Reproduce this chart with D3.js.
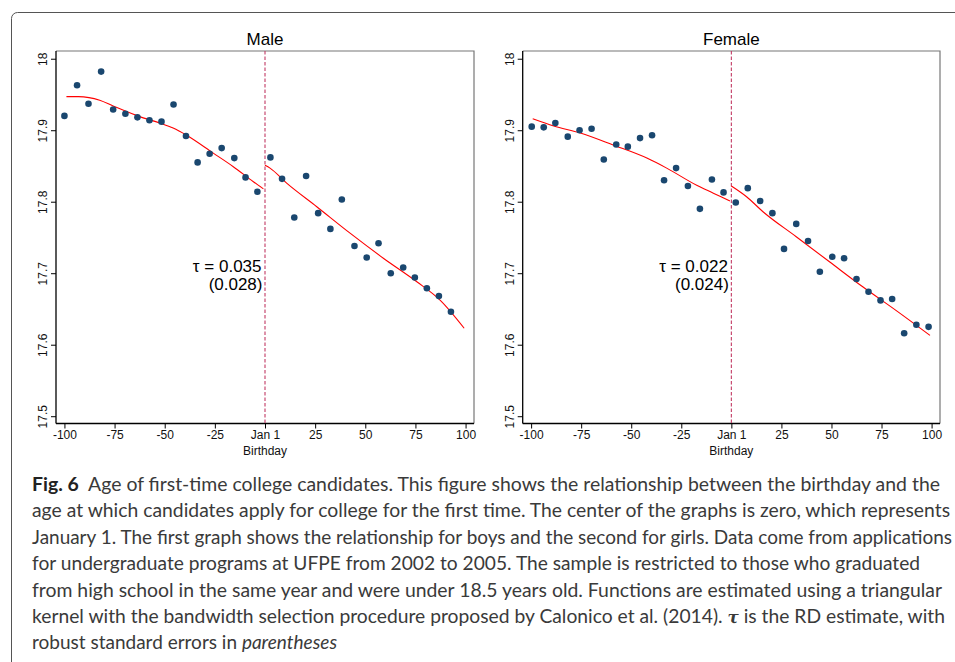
<!DOCTYPE html>
<html>
<head>
  <meta charset="utf-8">
  <script src="https://cdn.jsdelivr.net/npm/d3@7"></script>
  <style>
    body { margin: 0; background: #fff; }
  </style>
</head>
<body>
<script>
  // binned means (birthday in days around Jan 1, mean age)
  var maleDays = [-100, -93.7, -88, -81.7, -75.7, -69.6, -63.6, -57.6, -51.6, -45.6, -39.4, -33.6, -27.6, -21.6, -15.3, -9.7, -3.8,
                  2.7, 8.5, 14.6, 20.5, 26.5, 32.6, 38.3, 44.6, 50.7, 56.6, 62.7, 68.9, 74.7, 80.7, 86.7, 92.7];
  var maleAge = [17.920, 17.963, 17.937, 17.982, 17.929, 17.923, 17.918, 17.914, 17.912, 17.936, 17.892, 17.855, 17.867, 17.875, 17.861, 17.834, 17.814,
                 17.862, 17.832, 17.778, 17.836, 17.784, 17.762, 17.803, 17.738, 17.722, 17.742, 17.700, 17.708, 17.694, 17.679, 17.668, 17.646];

  var femaleDays = [-99.7, -93.7, -87.9, -81.7, -75.8, -69.8, -63.7, -57.5, -51.7, -45.6, -39.6, -33.6, -27.6, -21.7, -15.7, -9.7, -3.9,
                    2.2, 8.2, 14.4, 20.5, 26.3, 32.4, 38.3, 44.2, 50.4, 56.3, 62.5, 68.5, 74.5, 80.3, 86.3, 92.4, 98.5];
  var femaleAge = [17.905, 17.904, 17.910, 17.891, 17.900, 17.902, 17.859, 17.880, 17.877, 17.889, 17.893, 17.830, 17.847, 17.822, 17.790, 17.831, 17.813,
                   17.799, 17.819, 17.801, 17.784, 17.734, 17.769, 17.745, 17.702, 17.723, 17.721, 17.692, 17.674, 17.662, 17.664, 17.616, 17.628, 17.625];

  // local polynomial fits, each side of the cutoff
  var maleFitLeftX = [-99, -93, -82.4, -75.7, -62.4, -52.4, -45.8, -39.1, -25.8, -15.8, -5.8, -0.8];
  var maleFitLeftY = [17.947, 17.947, 17.942, 17.934, 17.919, 17.910, 17.903, 17.893, 17.868, 17.849, 17.828, 17.818];
  var maleFitRightX = [0, 2.5, 10.8, 25.8, 42.4, 59, 75.7, 87.4, 99.3];
  var maleFitRightY = [17.851, 17.847, 17.826, 17.793, 17.756, 17.721, 17.688, 17.662, 17.623];

  var femaleFitLeftX = [-99.2, -88.7, -75.4, -58.8, -42.2, -32.3, -17.3, -9.0, -0.7];
  var femaleFitLeftY = [17.916, 17.906, 17.896, 17.879, 17.861, 17.847, 17.823, 17.812, 17.801];
  var femaleFitRightX = [0, 7.6, 15.8, 32.4, 49, 65.6, 82.2, 99.2];
  var femaleFitRightY = [17.822, 17.807, 17.786, 17.751, 17.716, 17.681, 17.648, 17.613];

  var xTicks = [-100, -75, -50, -25, 0, 25, 50, 75, 100];
  var yTicks = [17.5, 17.6, 17.7, 17.8, 17.9, 18];

  var captionLines = [
    "Age of first-time college candidates. This figure shows the relationship between the birthday and the",
    "age at which candidates apply for college for the first time. The center of the graphs is zero, which represents",
    "January 1. The first graph shows the relationship for boys and the second for girls. Data come from applications",
    "for undergraduate programs at UFPE from 2002 to 2005. The sample is restricted to those who graduated",
    "from high school in the same year and were under 18.5 years old. Functions are estimated using a triangular",
    "kernel with the bandwidth selection procedure proposed by Calonico et al. (2014).",
    "robust standard errors in "
  ];

  var width = 955;
  var height = 662;

  var svg = d3.select("body")
    .append("svg")
    .attr("width", width)
    .attr("height", height);

  // outer frame of the figure box (runs off the page right/bottom)
  svg.append("rect")
    .attr("x", 11.5).attr("y", 12.5)
    .attr("width", 980).attr("height", 700)
    .attr("rx", 6)
    .style("fill", "none")
    .style("stroke", "#555")
    .style("stroke-width", 1);

  function panel(left, right, title, days, ages, fits, tau, se) {
    var top = 51, bottom = 423.5;
    var x = d3.scaleLinear().domain([-104.2, 104.2]).range([left, right]);
    var y = d3.scaleLinear().domain([17.4898, 18.0108]).range([bottom, top]);
    var g = svg.append("g");

    // top and right frame in grey
    g.append("path")
      .attr("d", "M" + left + "," + top + "H" + right + "V" + bottom)
      .style("fill", "none").style("stroke", "#777").style("stroke-width", 1.2);

    var xAxis = g.append("g")
      .attr("transform", "translate(0," + bottom + ")")
      .call(d3.axisBottom(x).tickValues(xTicks).tickSize(5).tickPadding(2)
        .tickFormat(function(d) { return d == 0 ? "Jan 1" : d; }));
    var yAxis = g.append("g")
      .attr("transform", "translate(" + left + ",0)")
      .call(d3.axisLeft(y).tickValues(yTicks).tickSize(5).tickFormat(d3.format("")));

    [xAxis, yAxis].forEach(function(a) {
      a.select(".domain").style("stroke", "#000").style("stroke-width", 1.3);
      a.selectAll(".tick line").style("stroke", "#000");
      a.selectAll("text").style("font-family", "Liberation Sans, Arial, sans-serif")
        .style("font-size", "12px").style("fill", "#111");
    });
    // the domain path has outer ticks; redraw as plain lines
    xAxis.select(".domain").attr("d", "M" + left + ",0H" + right);
    yAxis.select(".domain").attr("d", "M0," + top + "V" + bottom);

    yAxis.selectAll("text")
      .attr("transform", "rotate(-90)")
      .attr("x", 0).attr("y", -9).attr("dy", 0)
      .style("text-anchor", "middle");

    g.append("text")
      .attr("x", x(0)).attr("y", 455)
      .style("text-anchor", "middle")
      .style("font-family", "Liberation Sans, Arial, sans-serif")
      .style("font-size", "12px").style("fill", "#111")
      .text("Birthday");

    g.append("text")
      .attr("x", (left + right) / 2).attr("y", 45)
      .style("text-anchor", "middle")
      .style("font-family", "Liberation Sans, Arial, sans-serif")
      .style("font-size", "17px").style("fill", "#000")
      .text(title);

    // cutoff line
    g.append("line")
      .attr("x1", x(0)).attr("x2", x(0))
      .attr("y1", top).attr("y2", bottom)
      .style("stroke", "#c23a64").style("stroke-width", 1.1)
      .style("stroke-dasharray", "3.5,2");

    var line = d3.line().x(function(d) { return x(d[0]); }).y(function(d) { return y(d[1]); })
      .curve(d3.curveMonotoneX);
    fits.forEach(function(f) {
      g.append("path")
        .datum(d3.zip(f[0], f[1]))
        .attr("d", line)
        .style("fill", "none").style("stroke", "#ff0000").style("stroke-width", 1.1);
    });

    g.selectAll("circle")
      .data(d3.zip(days, ages))
      .enter()
      .append("circle")
      .attr("cx", function(d) { return x(d[0]); })
      .attr("cy", function(d) { return y(d[1]); })
      .attr("r", 3.3)
      .style("fill", "#1a476f");

    var ann = g.append("text")
      .style("text-anchor", "end")
      .style("font-family", "Liberation Sans, Arial, sans-serif")
      .style("font-size", "17px").style("fill", "#000");
    ann.append("tspan").attr("x", x(0) - 3.5).attr("y", 271.5).text("\u03c4 = " + tau);
    ann.append("tspan").attr("x", x(0) - 2.5).attr("y", 290).text("(" + se + ")");
  }

  panel(56, 474, "Male", maleDays, maleAge,
    [[maleFitLeftX, maleFitLeftY], [maleFitRightX, maleFitRightY]], "0.035", "0.028");
  panel(522.7, 940, "Female", femaleDays, femaleAge,
    [[femaleFitLeftX, femaleFitLeftY], [femaleFitRightX, femaleFitRightY]], "0.022", "0.024");

  // caption
  var capWidths = [908, 918, 920, 888, 910, 913, 305];
  var cap = svg.append("g")
    .style("font-family", "Lato, 'Open Sans', sans-serif")
    .style("font-size", "18.5px")
    .style("fill", "#3a3a3a");

  captionLines.forEach(function(s, i) {
    var t = cap.append("text")
      .attr("x", 32)
      .attr("y", 491 + i * 26.4)
      .attr("textLength", capWidths[i])
      .attr("lengthAdjust", "spacingAndGlyphs");
    if (i == 0) {
      t.append("tspan").style("font-weight", "bold").style("fill", "#222").text("Fig. 6");
      t.append("tspan").text("\u00a0 " + s);
    } else if (i == 5) {
      t.append("tspan").text(s + " ");
      t.append("tspan").style("font-family", "DejaVu Serif, serif").style("font-style", "italic")
        .style("font-weight", "bold").style("font-size", "16px").text("\u03c4");
      t.append("tspan").text(" is the RD estimate, with");
    } else if (i == 6) {
      t.append("tspan").text(s);
      t.append("tspan").style("font-style", "italic").text("parentheses");
    } else {
      t.text(s);
    }
  });
</script>
</body>
</html>
